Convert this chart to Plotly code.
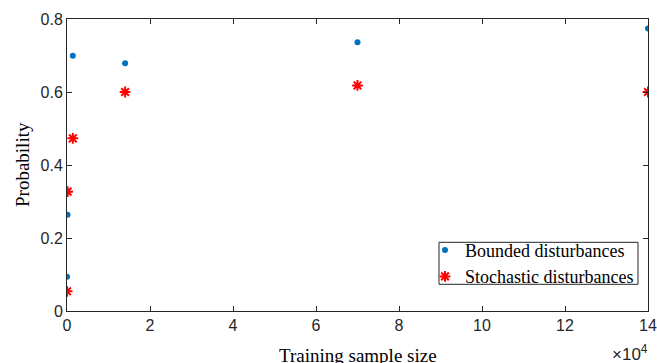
import plotly.graph_objects as go

sample_size = [14, 140, 1400, 14000, 70000, 140000]
bounded = [0.094, 0.264, 0.699, 0.679, 0.736, 0.774]
stochastic = [0.054, 0.327, 0.473, 0.600, 0.618, 0.600]
x_scale = 1e4
x_ticks = [0, 2, 4, 6, 8, 10, 12, 14]
y_ticks = [0, 0.2, 0.4, 0.6, 0.8]

xs = [v / x_scale for v in sample_size]

fig = go.Figure()
fig.add_trace(go.Scatter(
    x=xs, y=bounded, mode="markers", name="Bounded disturbances",
    marker=dict(symbol="circle", size=6, color="#0072BD", line=dict(width=0)),
))
fig.add_trace(go.Scatter(
    x=xs, y=stochastic, mode="markers", name="Stochastic disturbances",
    marker=dict(symbol="asterisk-open", size=9, color="#FF0000",
                line=dict(width=2, color="#FF0000")),
))

axis_common = dict(
    showline=True, linecolor="#262626", linewidth=1, mirror="ticks",
    ticks="inside", ticklen=5, tickcolor="#262626", showgrid=False, zeroline=False,
    automargin=False,
    tickfont=dict(family="Liberation Sans, Arial", size=16, color="#262626"),
)
serif = "Liberation Serif"
fig.update_layout(
    width=657, height=363, autosize=False,
    margin=dict(l=67, r=9, t=19, b=52),
    paper_bgcolor="white", plot_bgcolor="white",
    xaxis=dict(range=[0, 14], tickvals=x_ticks, ticktext=[str(t) for t in x_ticks], **axis_common),
    yaxis=dict(range=[0, 0.8], tickvals=y_ticks, ticktext=["0", "0.2", "0.4", "0.6", "0.8"], **axis_common),
    showlegend=True,
    legend=dict(
        x=(425 - 67) / 581, y=(310.7 - 231.5) / 292, xanchor="left", yanchor="top",
        bgcolor="rgba(0,0,0,0)", borderwidth=0,
        font=dict(family=serif, size=18, color="black"),
        itemsizing="trace", tracegroupgap=0,
    ),
    shapes=[
        dict(type="rect", xref="paper", yref="paper",
             x0=(439 - 67) / 581, x1=(638 - 67) / 581,
             y0=(310.7 - 284) / 292, y1=(310.7 - 242) / 292,
             line=dict(color="#262626", width=1), fillcolor="white", layer="below"),
    ],
    annotations=[
        dict(text="Training sample size", xref="paper", yref="paper", x=0.5, y=-0.11,
             xanchor="center", yanchor="top", showarrow=False,
             font=dict(family=serif, size=19, color="black")),
        dict(text="Probability", xref="paper", yref="paper", x=(22 - 67) / 581, y=0.5,
             xanchor="center", yanchor="middle", showarrow=False, textangle=-90,
             font=dict(family=serif, size=19, color="black")),
        dict(text="×10<sup>4</sup>", xref="paper", yref="paper", x=(610 - 67) / 581, y=-0.10,
             xanchor="left", yanchor="top", showarrow=False,
             font=dict(family="Liberation Sans, Arial", size=17, color="#262626")),
    ],
)

fig.write_html("out.html")
